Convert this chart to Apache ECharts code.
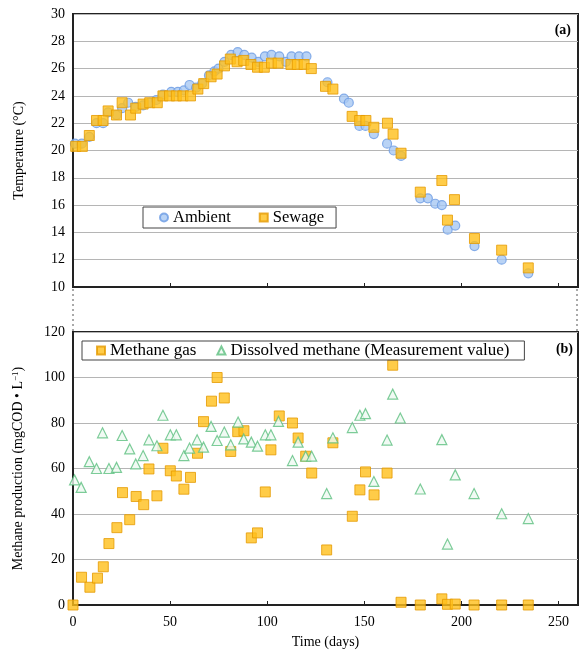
<!DOCTYPE html>
<html>
<head>
<meta charset="utf-8">
<script src="https://cdn.jsdelivr.net/npm/echarts@6/dist/echarts.min.js"></script>
<style>
  html, body { margin: 0; padding: 0; background: #fff; }
  #chart { width: 582px; height: 653px; }
</style>
</head>
<body>
<div id="chart"></div>
<script>
// (a) temperature, [day, °C]
var ambient = [
  [1, 20.5], [4.5, 20.5], [8.4, 21.0], [12.1, 22.0], [15.5, 22.0], [18.1, 22.8], [22.4, 22.6],
  [25.3, 23.1], [28.4, 23.5], [32.3, 23.2], [36.1, 23.3], [39.5, 23.5], [42.9, 23.7], [46.3, 24.1],
  [50.6, 24.3], [54, 24.3], [57.1, 24.4], [60, 24.8], [63.4, 24.6], [66.5, 24.9], [70, 25.5],
  [72.8, 25.8], [74.9, 26.0], [78, 26.5], [81.4, 27.0], [84.8, 27.2], [88.2, 27.0], [92, 26.8],
  [95.4, 26.5], [98.8, 26.9], [102.2, 27.0], [106.2, 26.9], [109.6, 26.5], [112.5, 26.9],
  [116.4, 26.9], [120.2, 26.9], [131, 25.0], [139.5, 23.8], [142, 23.5], [147.5, 21.8],
  [150.6, 21.8], [154.9, 21.2], [161.7, 20.5], [165.1, 20.0], [168.9, 19.6], [178.8, 16.5],
  [182.7, 16.5], [186.5, 16.1], [189.9, 16.0], [192.9, 14.2], [196.8, 14.5], [206.7, 13.0],
  [220.7, 12.0], [234.4, 11.0]
];
var sewage = [
  [1.4, 20.3], [4.8, 20.3], [8.4, 21.1], [12.1, 22.2], [15.5, 22.2], [18.1, 22.9], [22.4, 22.6],
  [25.3, 23.5], [29.6, 22.6], [32.3, 23.1], [36.1, 23.4], [39.5, 23.5], [43.4, 23.5], [46.3, 24.0],
  [49.7, 24.0], [53.2, 24.0], [56.6, 24.0], [60.5, 24.0], [64.3, 24.5], [67.3, 24.9], [71.1, 25.4],
  [74.2, 25.6], [78, 26.2], [81, 26.7], [84.5, 26.5], [87.9, 26.6], [91.6, 26.3], [95, 26.1],
  [98.5, 26.1], [102.2, 26.4], [105.6, 26.4], [112.2, 26.3], [115.5, 26.3], [119, 26.3],
  [122.7, 26.0], [130, 24.7], [133.8, 24.5], [143.7, 22.5], [147.6, 22.2], [150.8, 22.2],
  [154.9, 21.7], [161.9, 22.0], [164.8, 21.2], [168.9, 19.8], [178.8, 16.95], [189.9, 17.8],
  [192.8, 14.9], [196.4, 16.4], [206.7, 13.55], [220.7, 12.7], [234.4, 11.4]
];

// (b) methane production, [day, mgCOD/L]
var methaneGas = [
  [0, 0], [4.4, 12.2], [8.7, 7.8], [12.6, 11.8], [15.6, 16.8], [18.5, 27], [22.6, 34],
  [25.5, 49.4], [29.2, 37.5], [32.5, 47.7], [36.4, 44.1], [39.1, 59.8], [43.2, 48], [46.3, 68.9],
  [50.1, 59], [53.2, 56.7], [57.1, 50.9], [60.5, 56.1], [64.1, 66.7], [67.2, 80.6], [71.3, 89.6],
  [74.2, 100], [77.9, 91], [81.2, 67.5], [84.8, 76.2], [88, 76.6], [91.8, 29.5], [95, 31.7],
  [99, 49.7], [101.9, 68.2], [106.2, 83.1], [113, 80], [115.9, 73.4], [119.8, 65.4], [122.9, 58],
  [130.6, 24.2], [133.8, 71.3], [143.8, 39], [147.7, 50.6], [150.6, 58.5], [155, 48.4],
  [161.7, 58], [164.6, 105.4], [168.9, 1.2], [178.8, 0], [189.9, 2.7], [192.8, 0.3],
  [196.8, 0.4], [206.5, 0], [220.7, 0], [234.4, 0]
];
var dissolved = [
  [0.8, 55], [4.2, 51.7], [8.4, 63], [12.1, 60], [15.2, 75.7], [18.5, 60], [22.4, 60.5],
  [25.3, 74.5], [29.2, 68.6], [32.3, 62], [36.1, 65.7], [39.1, 72.6], [43.2, 70], [46.3, 83.4],
  [50.1, 74.8], [53.2, 74.8], [57.1, 65.7], [60, 69], [63.9, 72.6], [67.2, 69.4], [71.1, 78.5],
  [74.2, 72.3], [77.9, 76], [81.2, 70.4], [85, 80.4], [87.9, 73], [91.8, 71.6], [95, 69.8],
  [99, 74.8], [101.9, 74.8], [105.8, 80.7], [113, 63.5], [115.9, 71.6], [119.8, 65.4],
  [122.9, 65.4], [130.6, 49], [133.8, 73.5], [143.8, 78], [147.7, 83.4], [150.6, 84.1],
  [154.9, 54.3], [161.7, 72.5], [164.6, 92.7], [168.5, 82.2], [178.8, 51], [189.9, 72.7],
  [192.8, 26.8], [196.8, 57.2], [206.5, 49], [220.7, 40.1], [234.4, 38]
];

var font = 'Liberation Serif';
var sq = { color: '#ffbf1a', borderColor: '#e59a00', borderWidth: 1 };
var circ = { color: '#a8c8f2', borderColor: '#6b9be3', borderWidth: 1.2 };
var tri = { color: '#eef9f1', borderColor: '#5cbf80', borderWidth: 1.2 };

var chart = echarts.init(document.getElementById('chart'));

function yAx(idx, min, max, step, name) {
  return {
    gridIndex: idx, type: 'value', min: min, max: max, interval: step,
    name: name, nameLocation: 'middle', nameGap: 47,
    nameTextStyle: { fontFamily: font, fontSize: 14, color: '#000',
      rich: { a: { fontFamily: font, fontSize: 14, color: '#000' },
              s: { fontFamily: font, fontSize: 9, color: '#000', verticalAlign: 'top', padding: [0, 0, 6, 0] } } },
    axisLine: { show: true, lineStyle: { color: '#222', width: 2 } },
    axisTick: { show: false },
    axisLabel: { fontFamily: font, fontSize: 14, color: '#000', margin: 8 },
    splitLine: { lineStyle: { color: '#b5b5b5', width: 1.2 } }
  };
}

chart.setOption({
  animation: false,
  title: [
    { text: '(a)', right: 6, top: 18, textStyle: { fontFamily: font, fontSize: 14, fontWeight: 'bold', color: '#000' } },
    { text: '(b)', right: 4, top: 337, textStyle: { fontFamily: font, fontSize: 14, fontWeight: 'bold', color: '#000' } }
  ],
  grid: [
    { left: 73, right: 4, top: 14, height: 273, show: true, borderColor: '#222', borderWidth: 2 },
    { left: 73, right: 4, top: 332, height: 273, show: true, borderColor: '#222', borderWidth: 2 }
  ],
  legend: [
    { data: ['Ambient', 'Sewage'], left: 143, top: 207, orient: 'horizontal',
      borderColor: '#444', borderWidth: 1, padding: [2, 12, 2, 16], itemGap: 28,
      itemWidth: 8, itemHeight: 8,
      textStyle: { fontFamily: font, fontSize: 16.5, color: '#000' } },
    { data: ['Methane gas', 'Dissolved methane (Measurement value)'], left: 82, top: 341,
      borderColor: '#444', borderWidth: 1, padding: [1, 15, 1, 14], itemGap: 20,
      itemWidth: 8, itemHeight: 8,
      textStyle: { fontFamily: font, fontSize: 17, color: '#000' } }
  ],
  xAxis: [
    { gridIndex: 0, type: 'value', min: 0, max: 260, interval: 50,
      axisLine: { lineStyle: { color: '#222', width: 2 } },
      axisTick: { show: true, inside: true, length: 4, lineStyle: { color: '#222' } },
      axisLabel: { show: false }, splitLine: { show: false } },
    { gridIndex: 1, type: 'value', min: 0, max: 260, interval: 50,
      name: 'Time (days)', nameLocation: 'middle', nameGap: 30,
      nameTextStyle: { fontFamily: font, fontSize: 14, color: '#000' },
      axisLine: { lineStyle: { color: '#222', width: 2 } },
      axisTick: { show: true, inside: true, length: 4, lineStyle: { color: '#222' } },
      axisLabel: { fontFamily: font, fontSize: 14, color: '#000', margin: 10,
        formatter: function (v) { return v === 260 ? '' : v; } },
      splitLine: { show: false } }
  ],
  yAxis: [
    yAx(0, 10, 30, 2, 'Temperature (°C)'),
    yAx(1, 0, 120, 20, '{a|Methane production (mgCOD • L}{s|−1}{a|)}')
  ],
  series: [
    { name: 'Ambient', type: 'scatter', xAxisIndex: 0, yAxisIndex: 0, data: ambient,
      symbol: 'circle', symbolSize: 9, itemStyle: circ },
    { name: 'Sewage', type: 'scatter', xAxisIndex: 0, yAxisIndex: 0, data: sewage,
      symbol: 'rect', symbolSize: 10, itemStyle: sq },
    { name: 'Methane gas', type: 'scatter', xAxisIndex: 1, yAxisIndex: 1, data: methaneGas,
      symbol: 'rect', symbolSize: 10, itemStyle: sq },
    { name: 'Dissolved methane (Measurement value)', type: 'scatter', xAxisIndex: 1, yAxisIndex: 1,
      data: dissolved, symbol: 'triangle', symbolSize: 10, itemStyle: tri }
  ],
  graphic: [
    // dotted joins between the two panels
    { type: 'line', shape: { x1: 73, y1: 289, x2: 73, y2: 331 }, style: { stroke: '#555', lineDash: [2, 3], lineWidth: 1 } },
    { type: 'line', shape: { x1: 577, y1: 289, x2: 577, y2: 331 }, style: { stroke: '#555', lineDash: [2, 3], lineWidth: 1 } }
  ]
});
</script>
</body>
</html>
